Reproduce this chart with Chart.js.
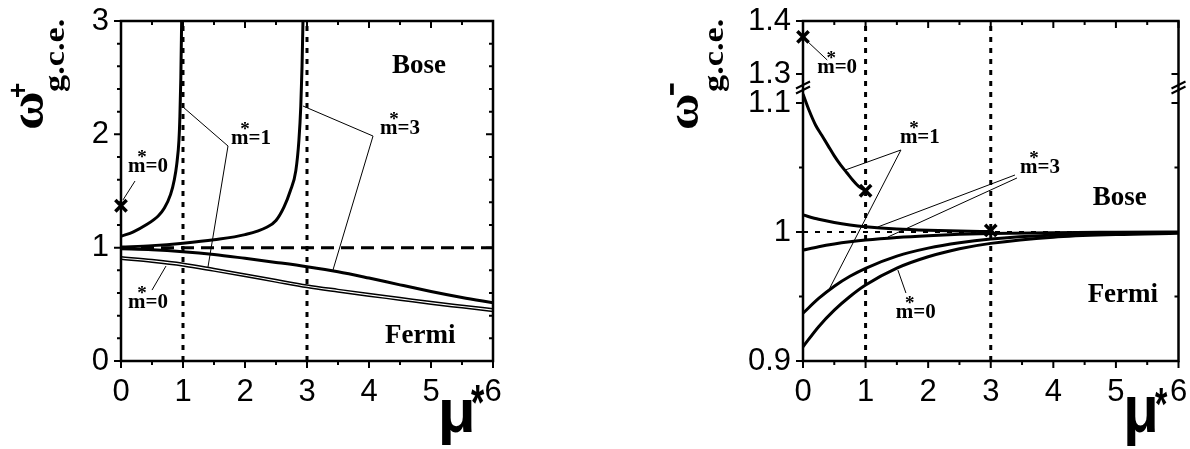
<!DOCTYPE html>
<html>
<head>
<meta charset="utf-8">
<script src="https://cdn.jsdelivr.net/npm/chart.js@4.4.1/dist/chart.umd.min.js"></script>
<style>
  html, body { margin: 0; padding: 0; background: #fff; }
  #wrap { position: relative; width: 1190px; height: 449px; }
  .box { position: absolute; top: 0; width: 595px; height: 449px; }
</style>
</head>
<body>
<div id="wrap">
  <div class="box" style="left:0"><canvas id="plus" width="595" height="449"></canvas></div>
  <div class="box" style="left:595px"><canvas id="minus" width="595" height="449"></canvas></div>
</div>
<script>
// ---------- omega+ (left panel) ----------
const muBose1 = [0, 0.2, 0.4, 0.6, 0.7, 0.8, 0.86, 0.9, 0.935, 0.95, 0.965, 0.978];
const omBose1 = [1.10, 1.14, 1.20, 1.28, 1.35, 1.47, 1.60, 1.74, 1.95, 2.16, 2.5, 3.0];
const muBose3 = [0, 0.5, 1, 1.5, 2, 2.35, 2.5, 2.63, 2.73, 2.82, 2.87, 2.9, 2.92, 2.935];
const omBose3 = [1.005, 1.018, 1.04, 1.07, 1.115, 1.18, 1.24, 1.36, 1.5, 1.68, 1.95, 2.25, 2.6, 3.0];
const muFermiP = [0, 0.5, 1, 1.5, 2, 2.5, 3, 3.5, 4, 4.5, 5, 5.5, 6];
const omFermi3P = [0.99, 0.982, 0.965, 0.94, 0.906, 0.87, 0.832, 0.788, 0.732, 0.672, 0.614, 0.561, 0.514];
const omFermi1P = [0.92, 0.895, 0.862, 0.816, 0.768, 0.719, 0.671, 0.632, 0.595, 0.56, 0.524, 0.492, 0.461];
const omFermi0P = [0.897, 0.872, 0.839, 0.793, 0.745, 0.696, 0.648, 0.609, 0.572, 0.537, 0.501, 0.469, 0.437];
const crossPlus = [[0, 1.37]];
// leader lines [mu0, om0, mu1, om1]
const leadersPlus = [
  [0.226, 1.588, 0.032, 1.421],
  [1.726, 1.897, 1.0, 2.241],
  [1.726, 1.897, 1.403, 0.829],
  [4.065, 1.985, 2.935, 2.25],
  [4.065, 1.985, 3.419, 0.803],
  [0.5, 0.626, 0.726, 0.838]
];
// text labels, left/baseline anchor in data units
const labelsPlus = ['m=0', 'm=1', 'm=3', 'm=0', 'Bose', 'Fermi'];
const labelMuPlus = [0.113, 1.774, 4.177, 0.113, 4.371, 4.258];
const labelOmPlus = [1.668, 1.919, 2.003, 0.468, 2.541, 0.159];

const xTicks = [0, 0.5, 1, 1.5, 2, 2.5, 3, 3.5, 4, 4.5, 5, 5.5, 6];
const xLabels = ['0', '', '1', '', '2', '', '3', '', '4', '', '5', '', '6'];
const yTicksPlus = [0, 0.2, 0.4, 0.6, 0.8, 1, 1.2, 1.4, 1.6, 1.8, 2, 2.2, 2.4, 2.6, 2.8, 3];
const yLabelsPlus = ['0', '', '', '', '', '1', '', '', '', '', '2', '', '', '', '', '3'];

// ---------- omega- (right panel) ----------
const muBose1M = [0, 0.1, 0.2, 0.3, 0.4, 0.5, 0.6, 0.7, 0.8, 0.9, 1.0];
const omBose1M = [1.107, 1.094, 1.083, 1.075, 1.067, 1.059, 1.052, 1.046, 1.040, 1.035, 1.032];
const muBose3M = [0, 0.25, 0.5, 0.75, 1, 1.5, 2, 2.5, 3];
const omBose3M = [1.0132, 1.0099, 1.0074, 1.0055, 1.0041, 1.0023, 1.0013, 1.0007, 1.0004];
const muFermiM = [0, 0.25, 0.5, 0.75, 1, 1.5, 2, 2.5, 3, 4, 5, 6];
const omFermi3M = [0.986, 0.9886, 0.9907, 0.9924, 0.9938, 0.9958, 0.9972, 0.9982, 0.9988, 0.9995, 0.9998, 1.0];
const omFermi1M = [0.937, 0.9485, 0.958, 0.9657, 0.9719, 0.9813, 0.9875, 0.9917, 0.9945, 0.9976, 0.999, 0.9996];
const omFermi0M = [0.911, 0.9266, 0.9394, 0.950, 0.9589, 0.972, 0.9808, 0.987, 0.9912, 0.996, 0.998, 0.999];
const crossMinus = [[0, 1.37], [1, 1.032], [3, 1.0012]];
const leadersMinus = [
  [0.081, 1.3604, 0.387, 1.3264],
  [1.565, 1.0636, 0.677, 1.0481],
  [1.565, 1.0636, 0.387, 0.9527],
  [3.387, 1.0442, 1.194, 1.0039],
  [3.419, 1.0419, 1.355, 0.9961],
  [1.645, 0.9527, 1.516, 0.9705]
];
const labelsMinus = ['m=0', 'm=1', 'm=3', 'm=0', 'Bose', 'Fermi'];
const labelMuMinus = [0.226, 1.548, 3.468, 1.484, 4.629, 4.548];
const labelOmMinus = [1.3019, 1.069, 1.0457, 0.9333, 1.0209, 0.9457];

const yTicksMinus = [0.9, 0.95, 1.0, 1.05, 1.1, 1.3, 1.4];
const yLabelsMinus = ['0.9', '', '1', '', '1.1', '1.3', '1.4'];

// broken axis: 0.9..1.1 on the lower part, 1.3..1.4 squeezed on top
function brk(v) {
  return v <= 1.2 ? (v - 0.9) * 10 : 2.636 - (1.4 - v) * 4.11;
}

const BLACK = '#000';

function pts(xs, ys, f) {
  return xs.map((x, i) => ({x: x, y: f ? f(ys[i]) : ys[i]}));
}

function curve(xs, ys, w, f) {
  return {data: pts(xs, ys, f), borderColor: BLACK, borderWidth: w, pointRadius: 0,
    cubicInterpolationMode: 'monotone', fill: false};
}

function segment(a, b, w, dash, f) {
  return {data: [{x: a[0], y: f ? f(a[1]) : a[1]}, {x: b[0], y: f ? f(b[1]) : b[1]}],
    borderColor: BLACK, borderWidth: w, borderDash: dash || [], pointRadius: 0, fill: false};
}

function crosses(list, f) {
  return {data: list.map(p => ({x: p[0], y: f ? f(p[1]) : p[1]})), showLine: false, clip: false,
    pointStyle: 'crossRot', pointRadius: 8, pointBorderWidth: 3.5, borderColor: BLACK,
    pointBorderColor: BLACK, pointHoverRadius: 8};
}

// draw text so that its ink box fills the given rectangle (optionally rotated -90deg)
function inkFit(ctx, txt, font, x0, y0, x1, y1, rotated) {
  ctx.save();
  ctx.font = font;
  ctx.textAlign = 'left';
  ctx.textBaseline = 'alphabetic';
  const m = ctx.measureText(txt);
  const w = m.actualBoundingBoxLeft + m.actualBoundingBoxRight;
  const h = m.actualBoundingBoxAscent + m.actualBoundingBoxDescent;
  ctx.translate((x0 + x1) / 2, (y0 + y1) / 2);
  let bw = x1 - x0, bh = y1 - y0;
  if (rotated) {
    ctx.rotate(-Math.PI / 2);
    const t = bw; bw = bh; bh = t;
  }
  ctx.scale(bw / w, bh / h);
  ctx.fillStyle = BLACK;
  ctx.fillText(txt, -w / 2 + m.actualBoundingBoxLeft, h / 2 - m.actualBoundingBoxDescent);
  ctx.restore();
}

function drawLabels(chart, ctx, texts, mus, oms, f) {
  const {x, y} = chart.scales;
  ctx.fillStyle = BLACK;
  ctx.textAlign = 'left';
  ctx.textBaseline = 'alphabetic';
  texts.forEach((t, i) => {
    const px = x.getPixelForValue(mus[i]);
    const py = y.getPixelForValue(f ? f(oms[i]) : oms[i]);
    if (t[0] === 'm') {
      ctx.font = 'bold 21px "Liberation Serif"';
      ctx.fillText(t, px, py);
      ctx.font = 'bold 19px "Liberation Serif"';
      ctx.textAlign = 'center';
      ctx.fillText('*', px + 14, py - 9);
      ctx.textAlign = 'left';
    } else {
      ctx.font = 'bold 27px "Liberation Serif"';
      ctx.fillText(t, px, py);
    }
  });
}

const framePlugin = {
  id: 'frame',
  afterDatasetsDraw(chart, args, opts) {
    const {ctx, chartArea: a, scales: {x, y}} = chart;
    ctx.save();
    ctx.strokeStyle = BLACK;
    ctx.lineWidth = 2.5;
    ctx.strokeRect(a.left, a.top, a.right - a.left, a.bottom - a.top);
    ctx.lineWidth = 2;
    ctx.beginPath();
    x.ticks.forEach(t => {
      const px = x.getPixelForValue(t.value);
      const len = t.label ? 7 : 4;
      ctx.moveTo(px, a.bottom); ctx.lineTo(px, a.bottom + len);
      ctx.moveTo(px, a.top); ctx.lineTo(px, a.top + len);
    });
    y.ticks.forEach(t => {
      const py = y.getPixelForValue(t.value);
      const len = t.label ? 7 : 4;
      ctx.moveTo(a.left, py); ctx.lineTo(a.left - len, py);
      ctx.moveTo(a.right, py); ctx.lineTo(a.right - len, py);
    });
    ctx.stroke();
    if (opts.draw) opts.draw(chart, ctx);
    ctx.restore();
  }
};
Chart.register(framePlugin);

function baseOptions(yMin, yMax, yTicks, yLabels, yWidth, padRight, extra) {
  return {
    responsive: false,
    animation: false,
    events: [],
    layout: {padding: {left: 0, right: padRight, top: 21, bottom: 0}},
    plugins: {legend: {display: false}, tooltip: {enabled: false}, frame: {draw: extra}},
    scales: {
      x: {
        type: 'linear', min: 0, max: 6,
        afterBuildTicks: s => { s.ticks = xTicks.map(v => ({value: v})); },
        afterFit: s => { s.height = 88; s.paddingLeft = 0; s.paddingRight = 0; },
        grid: {display: false, drawTicks: false},
        border: {display: false},
        ticks: {autoSkip: false, maxRotation: 0, padding: 13, color: BLACK,
          font: {family: '"Liberation Sans"', size: 31},
          callback: (v, i) => xLabels[i]}
      },
      y: {
        type: 'linear', min: yMin, max: yMax,
        afterBuildTicks: s => { s.ticks = yTicks.map(v => ({value: v})); },
        afterFit: s => { s.width = yWidth; s.paddingTop = 0; s.paddingBottom = 0; },
        grid: {display: false, drawTicks: false},
        border: {display: false},
        ticks: {autoSkip: false, padding: 12, color: BLACK,
          font: {family: '"Liberation Sans"', size: 31},
          callback: (v, i) => yLabels[i]}
      }
    }
  };
}

// ----- left chart -----
const plusSets = [
  curve(muBose1, omBose1, 3),
  curve(muBose3, omBose3, 3),
  curve(muFermiP, omFermi3P, 3),
  curve(muFermiP, omFermi1P, 1.5),
  curve(muFermiP, omFermi0P, 1.5),
  segment([0, 1], [6, 1], 3, [13, 7]),
  segment([1, 0], [1, 3], 3, [5, 6]),
  segment([3, 0], [3, 3], 3, [5, 6]),
  crosses(crossPlus)
].concat(leadersPlus.map(l => segment([l[0], l[1]], [l[2], l[3]], 1)));

new Chart(document.getElementById('plus'), {
  type: 'line',
  data: {datasets: plusSets},
  options: baseOptions(0, 3, yTicksPlus, yLabelsPlus, 121, 102, (chart, ctx) => {
    drawLabels(chart, ctx, labelsPlus, labelMuPlus, labelOmPlus);
    inkFit(ctx, '\u03c9', 'bold 50px "Liberation Serif"', 20, 93, 43, 128, true);
    inkFit(ctx, '+', 'bold 30px "Liberation Sans"', 10, 83, 25, 97, true);
    inkFit(ctx, 'g.c.e.', 'bold 33px "Liberation Serif"', 47, 20, 70, 92, true);
    inkFit(ctx, '\u03bc', 'bold 60px "Liberation Sans"', 442, 400, 472, 444, false);
    inkFit(ctx, '*', 'bold 44px "Liberation Sans"', 471, 385, 485, 404, false);
  })
});

// ----- right chart -----
const minusSets = [
  curve(muBose1M, omBose1M, 3, brk),
  curve(muBose3M, omBose3M, 3, brk),
  curve(muFermiM, omFermi3M, 3, brk),
  curve(muFermiM, omFermi1M, 3, brk),
  curve(muFermiM, omFermi0M, 3, brk),
  segment([0, 1], [6, 1], 2, [5, 7], brk),
  segment([1, 0.9], [1, 1.4], 3, [5, 6], brk),
  segment([3, 0.9], [3, 1.4], 3, [5, 6], brk),
  crosses(crossMinus, brk)
].concat(leadersMinus.map(l => segment([l[0], l[1]], [l[2], l[3]], 1, null, brk)));

new Chart(document.getElementById('minus'), {
  type: 'line',
  data: {datasets: minusSets},
  options: baseOptions(0, 2.636, yTicksMinus.map(brk), yLabelsMinus, 208, 10, (chart, ctx) => {
    drawLabels(chart, ctx, labelsMinus, labelMuMinus, labelOmMinus, brk);
    const a = chart.chartArea;
    // break marks on both vertical axes
    ctx.strokeStyle = BLACK;
    ctx.lineWidth = 2;
    ctx.beginPath();
    [a.left, a.right].forEach(ax => {
      [85, 90].forEach(by => {
        ctx.moveTo(ax - 7, by + 3.5);
        ctx.lineTo(ax + 7, by - 3.5);
      });
    });
    ctx.stroke();
    const o = 595;
    inkFit(ctx, '\u03c9', 'bold 50px "Liberation Serif"', 676 - o, 95, 698 - o, 128, true);
    inkFit(ctx, '\u2212', 'bold 30px "Liberation Sans"', 670 - o, 82, 674 - o, 96, false);
    inkFit(ctx, 'g.c.e.', 'bold 33px "Liberation Serif"', 706 - o, 20, 729 - o, 92, true);
    inkFit(ctx, '\u03bc', 'bold 60px "Liberation Sans"', 1127 - o, 397, 1155 - o, 445, false);
    inkFit(ctx, '*', 'bold 44px "Liberation Sans"', 1155 - o, 387, 1168 - o, 405, false);
  })
});
</script>
</body>
</html>
